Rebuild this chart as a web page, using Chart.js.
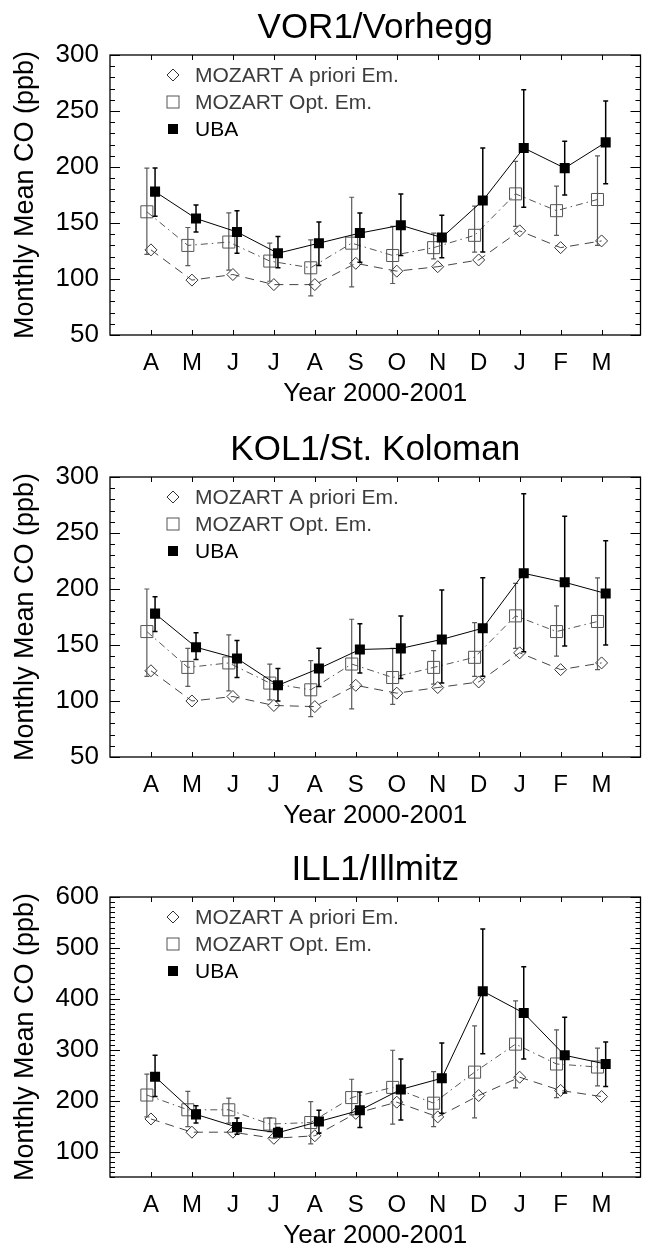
<!DOCTYPE html>
<html>
<head>
<meta charset="utf-8">
<script src="https://cdn.jsdelivr.net/npm/chart.js@4.4.1/dist/chart.umd.min.js"></script>
<style>
  html, body { margin: 0; padding: 0; background: #fff; }
  body { width: 650px; height: 1245px; position: relative; overflow: hidden; }
  .panel { position: absolute; left: 0; width: 650px; height: 422px; }
</style>
</head>
<body>
<div class="panel" style="top:0px"><canvas id="vor" width="650" height="422"></canvas></div>
<div class="panel" style="top:422px"><canvas id="kol" width="650" height="422"></canvas></div>
<div class="panel" style="top:842px"><canvas id="ill" width="650" height="422"></canvas></div>
<script>
// Months April 2000 - March 2001
const MONTHS = ['A', 'M', 'J', 'J', 'A', 'S', 'O', 'N', 'D', 'J', 'F', 'M'];
const SERIES_NAMES = ['MOZART A priori Em.', 'MOZART Opt. Em.', 'UBA'];

// VOR1 / Vorhegg (ppb)
const vorApriori  = [126,  99, 104,  95,  95, 114, 107, 111, 117, 143, 128, 134];
const vorOpt      = [160, 130, 133, 116, 110, 132, 121, 128, 139, 176, 161, 171];
const vorOptLow   = [122, 112, 108,  98,  85,  93,  96, 118, 124, 147, 139, 130];
const vorOptHigh  = [199, 146, 159, 132, 135, 173, 147, 141, 165, 205, 183, 210];
const vorUba      = [178, 154, 142, 123, 132, 141, 148, 137, 170, 217, 199, 222];
const vorUbaLow   = [156, 142, 123, 110, 112, 115, 121, 119, 124, 164, 175, 185];
const vorUbaHigh  = [199, 166, 161, 138, 151, 159, 176, 157, 217, 269, 223, 259];

// KOL1 / St. Koloman (ppb)
const kolApriori  = [127, 100, 104,  96,  95, 114, 107, 112, 117, 143, 128, 134];
const kolOpt      = [162, 130, 134, 116, 110, 133, 121, 130, 139, 176, 162, 171];
const kolOptLow   = [122, 113, 109, 101,  86,  93,  97, 115, 122, 147, 140, 128];
const kolOptHigh  = [200, 147, 159, 133, 136, 173, 147, 145, 170, 205, 185, 210];
const kolUba      = [178, 148, 138, 114, 129, 146, 147, 155, 165, 214, 206, 196];
const kolUbaLow   = [162, 137, 121, 100, 113, 125, 120, 116, 122, 144, 149, 150];
const kolUbaHigh  = [193, 161, 154, 129, 147, 169, 176, 199, 210, 285, 265, 243];

// ILL1 / Illmitz (ppb)
const illApriori  = [164, 138, 138, 126, 131, 175, 197, 168, 210, 246, 220, 208];
const illOpt      = [211, 182, 182, 154, 157, 206, 226, 195, 256, 311, 272, 266];
const illOptLow   = [168, 149, 156, 139, 115, 172, 154, 149, 166, 225, 206, 229];
const illOptHigh  = [252, 218, 205, 166, 198, 242, 299, 257, 347, 396, 339, 303];
const illUba      = [247, 173, 148, 137, 159, 181, 222, 244, 415, 372, 289, 272];
const illUbaLow   = [208, 156, 134, 130, 136, 147, 162, 175, 292, 282, 215, 228];
const illUbaHigh  = [289, 190, 166, 147, 181, 217, 282, 313, 537, 463, 364, 315];

// Y axis tick labels
const lowTicks  = [50, 100, 150, 200, 250, 300];
const highTicks = [100, 200, 300, 400, 500, 600];

const FONT = '"Liberation Sans", Arial, Helvetica, sans-serif';
Chart.defaults.font.family = FONT;
Chart.defaults.color = '#000';

// small horizontal shift so the three series do not sit on top of each other
const SHIFT = { apriori: 0, opt: -0.1, uba: 0.1 };

function pts(values, shift) {
  return values.map((v, i) => ({ x: i + 1 + shift, y: v }));
}

// Vertical error bars, drawn just before their dataset
const errorBars = {
  id: 'errorBars',
  beforeDatasetDraw(chart, args) {
    const ds = chart.data.datasets[args.index];
    if (!ds.errLow) return;
    const ctx = chart.ctx;
    const y = chart.scales.y;
    ctx.save();
    ctx.strokeStyle = ds.errColor;
    ctx.lineWidth = ds.errWidth;
    args.meta.data.forEach((el, i) => {
      const x = el.x;
      const y1 = y.getPixelForValue(ds.errLow[i]);
      const y2 = y.getPixelForValue(ds.errHigh[i]);
      ctx.beginPath();
      ctx.moveTo(x, y1); ctx.lineTo(x, y2);
      ctx.moveTo(x - 2.5, y1); ctx.lineTo(x + 2.5, y1);
      ctx.moveTo(x - 2.5, y2); ctx.lineTo(x + 2.5, y2);
      ctx.stroke();
    });
    ctx.restore();
  }
};

// Box frame with inward ticks on all four sides
const frame = {
  id: 'frame',
  afterDraw(chart, args, opts) {
    const { ctx, chartArea: a } = chart;
    const xs = chart.scales.x, ys = chart.scales.y;
    ctx.save();
    ctx.strokeStyle = '#000';
    ctx.lineWidth = 1.3;
    ctx.strokeRect(a.left, a.top, a.right - a.left, a.bottom - a.top);
    ctx.lineWidth = 1;
    ctx.beginPath();
    xs.ticks.forEach(t => {
      const px = Math.round(xs.getPixelForValue(t.value)) + 0.5;
      ctx.moveTo(px, a.bottom); ctx.lineTo(px, a.bottom - 5);
      ctx.moveTo(px, a.top); ctx.lineTo(px, a.top + 5);
    });
    for (let v = ys.min; v <= ys.max + 1e-6; v += opts.minor) {
      const major = Math.abs(v % opts.major) < 1e-6;
      const len = major ? 10 : 5;
      const py = Math.round(ys.getPixelForValue(v)) + 0.5;
      ctx.moveTo(a.left, py); ctx.lineTo(a.left + len, py);
      ctx.moveTo(a.right, py); ctx.lineTo(a.right - len, py);
    }
    ctx.stroke();
    ctx.restore();
  }
};

// Legend in the upper left corner of the plot
const boxLegend = {
  id: 'boxLegend',
  afterDraw(chart) {
    const { ctx, chartArea: a } = chart;
    const x0 = a.left + 63, tx = a.left + 85;
    const rows = [a.top + 20, a.top + 47, a.top + 74];
    ctx.save();
    ctx.font = '21px ' + FONT;
    ctx.textBaseline = 'middle';
    ctx.textAlign = 'left';
    // diamond
    ctx.strokeStyle = '#333'; ctx.lineWidth = 1;
    ctx.beginPath();
    ctx.moveTo(x0 - 6, rows[0]); ctx.lineTo(x0, rows[0] - 6);
    ctx.lineTo(x0 + 6, rows[0]); ctx.lineTo(x0, rows[0] + 6); ctx.closePath();
    ctx.stroke();
    // open square
    ctx.strokeStyle = '#555';
    ctx.strokeRect(x0 - 6, rows[1] - 6, 12, 12);
    // filled square
    ctx.fillStyle = '#000';
    ctx.fillRect(x0 - 5, rows[2] - 5, 10, 10);
    ctx.fillStyle = '#3c3c3c';
    ctx.fillText(SERIES_NAMES[0], tx, rows[0] + 1);
    ctx.fillText(SERIES_NAMES[1], tx, rows[1] + 1);
    ctx.fillStyle = '#000';
    ctx.fillText(SERIES_NAMES[2], tx, rows[2] + 1);
    ctx.restore();
  }
};

function makePanel(id, title, s, yMin, yMax, yTicks, major) {
  new Chart(document.getElementById(id), {
    type: 'line',
    data: {
      datasets: [
        {
          label: SERIES_NAMES[0], data: pts(s.apriori, SHIFT.apriori), order: 3,
          borderColor: '#444', borderWidth: 1, borderDash: [9, 6],
          pointStyle: 'rectRot', pointRadius: 6, pointBorderColor: '#333',
          pointBackgroundColor: 'rgba(0,0,0,0)', pointBorderWidth: 1
        },
        {
          label: SERIES_NAMES[1], data: pts(s.opt, SHIFT.opt), order: 2,
          borderColor: '#555', borderWidth: 1, borderDash: [7, 4, 1.5, 4],
          pointStyle: 'rect', pointRadius: 8.5, pointBorderColor: '#555',
          pointBackgroundColor: 'rgba(0,0,0,0)', pointBorderWidth: 1,
          errLow: s.optLow, errHigh: s.optHigh, errColor: '#5a5a5a', errWidth: 1.2
        },
        {
          label: SERIES_NAMES[2], data: pts(s.uba, SHIFT.uba), order: 1,
          borderColor: '#000', borderWidth: 1,
          pointStyle: 'rect', pointRadius: 7.1, pointBorderColor: '#000',
          pointBackgroundColor: '#000', pointBorderWidth: 0,
          errLow: s.ubaLow, errHigh: s.ubaHigh, errColor: '#000', errWidth: 1.5
        }
      ]
    },
    options: {
      responsive: false,
      animation: false,
      events: [],
      layout: { padding: { left: 0, right: 2, top: 0, bottom: 0 } },
      elements: { line: { tension: 0 } },
      plugins: {
        legend: { display: false },
        tooltip: { enabled: false },
        title: {
          display: true, text: title, color: '#000', fullSize: false,
          font: { size: 35, weight: 'normal' },
          padding: { top: 7, bottom: 6 }
        },
        frame: { minor: 10, major: major }
      },
      scales: {
        x: {
          type: 'linear', min: 0, max: 12.95,
          grid: { display: false }, border: { display: false },
          afterBuildTicks: sc => { sc.ticks = MONTHS.map((m, i) => ({ value: i + 1 })); },
          afterFit: sc => { sc.height = 87; },
          ticks: {
            autoSkip: false, maxRotation: 0, padding: 6, color: '#000',
            font: { size: 24 },
            callback: (v, i) => MONTHS[i]
          },
          title: {
            display: true, text: 'Year 2000-2001', color: '#000',
            font: { size: 26 }, padding: { top: 0, bottom: 13 }
          }
        },
        y: {
          min: yMin, max: yMax,
          grid: { display: false }, border: { display: false },
          afterBuildTicks: sc => { sc.ticks = yTicks.map(v => ({ value: v })); },
          afterFit: sc => { sc.width = 110; },
          ticks: { padding: 3, color: '#000', font: { size: 26 } },
          title: {
            display: true, text: 'Monthly Mean CO (ppb)', color: '#000',
            font: { size: 27 }, padding: { top: 9, bottom: 0 }
          }
        }
      }
    },
    plugins: [errorBars, frame, boxLegend]
  });
}

makePanel('vor', 'VOR1/Vorhegg', {
  apriori: vorApriori, opt: vorOpt, optLow: vorOptLow, optHigh: vorOptHigh,
  uba: vorUba, ubaLow: vorUbaLow, ubaHigh: vorUbaHigh
}, 50, 300, lowTicks, 50);

makePanel('kol', 'KOL1/St. Koloman', {
  apriori: kolApriori, opt: kolOpt, optLow: kolOptLow, optHigh: kolOptHigh,
  uba: kolUba, ubaLow: kolUbaLow, ubaHigh: kolUbaHigh
}, 50, 300, lowTicks, 50);

makePanel('ill', 'ILL1/Illmitz', {
  apriori: illApriori, opt: illOpt, optLow: illOptLow, optHigh: illOptHigh,
  uba: illUba, ubaLow: illUbaLow, ubaHigh: illUbaHigh
}, 50, 600, highTicks, 100);
</script>
</body>
</html>
